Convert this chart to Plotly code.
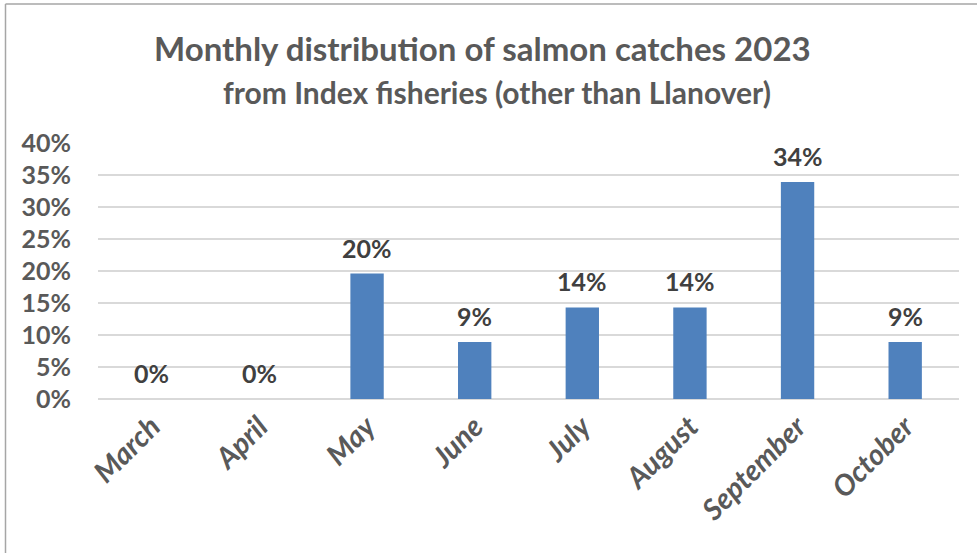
import plotly.graph_objects as go

months = ["March", "April", "May", "June", "July", "August", "September", "October"]
shares = [0.0, 0.0, 0.196, 0.089, 0.143, 0.143, 0.339, 0.089]
labels = ["0%", "0%", "20%", "9%", "14%", "14%", "34%", "9%"]
y_ticks = [0, 0.05, 0.10, 0.15, 0.20, 0.25, 0.30, 0.35, 0.40]
y_tick_text = ["0%", "5%", "10%", "15%", "20%", "25%", "30%", "35%", "40%"]
title_main = "Monthly distribution of salmon catches 2023"
title_sub = "from Index fisheries (other than Llanover)"

FONT = "Lato"
W, H = 977, 553
ML, MR, MT, MB = 98, 18, 143, 154
PW, PH = W - ML - MR, H - MT - MB

def px_x(px):
    return (px - ML) / PW

def px_y(py):
    return (H - MB - py) / PH

fig = go.Figure()
fig.add_trace(go.Bar(
    x=months, y=shares,
    marker=dict(color="#4F81BD", line=dict(width=0)),
    width=0.31, hoverinfo="skip",
))

annotations = []
for m, v, t in zip(months, shares, labels):
    annotations.append(dict(
        x=m, y=v, xref="x", yref="y", text=t, showarrow=False,
        yanchor="middle", yshift=26,
        font=dict(family=FONT, size=25, color="#404040", weight="bold"),
    ))
annotations.append(dict(
    x=px_x(482), y=px_y(48), xref="paper", yref="paper", text=title_main,
    showarrow=False, xanchor="center", yanchor="middle",
    font=dict(family=FONT, size=33, color="#595959", weight="bold"),
))
annotations.append(dict(
    x=px_x(497), y=px_y(92), xref="paper", yref="paper", text=title_sub,
    showarrow=False, xanchor="center", yanchor="middle",
    font=dict(family=FONT, size=30, color="#595959", weight="bold"),
))

shapes = [
    dict(type="line", xref="paper", yref="paper", x0=px_x(5.5), x1=px_x(977), y0=px_y(4), y1=px_y(4),
         line=dict(color="#A6A6A6", width=1.5)),
    dict(type="line", xref="paper", yref="paper", x0=px_x(5.5), x1=px_x(5.5), y0=px_y(4), y1=px_y(553),
         line=dict(color="#A6A6A6", width=1.5)),
]

fig.update_layout(
    width=W, height=H,
    margin=dict(l=ML, r=MR, t=MT, b=MB),
    paper_bgcolor="white", plot_bgcolor="white",
    showlegend=False,
    annotations=annotations, shapes=shapes,
    xaxis=dict(
        type="category", tickangle=-45, showgrid=False, showline=False, ticks="",
        ticklabelstandoff=4,
        tickfont=dict(family=FONT, size=29, color="#595959", weight="bold", style="italic"),
    ),
    yaxis=dict(
        range=[0, 0.4], tickvals=y_ticks, ticktext=y_tick_text,
        showgrid=True, gridcolor="#D9D9D9", gridwidth=1.5,
        zeroline=True, zerolinecolor="#D9D9D9", zerolinewidth=1.5,
        showline=False, ticks="", ticklabelstandoff=26,
        tickfont=dict(family=FONT, size=25, color="#595959", weight="bold"),
    ),
)

fig.write_html("out.html")
